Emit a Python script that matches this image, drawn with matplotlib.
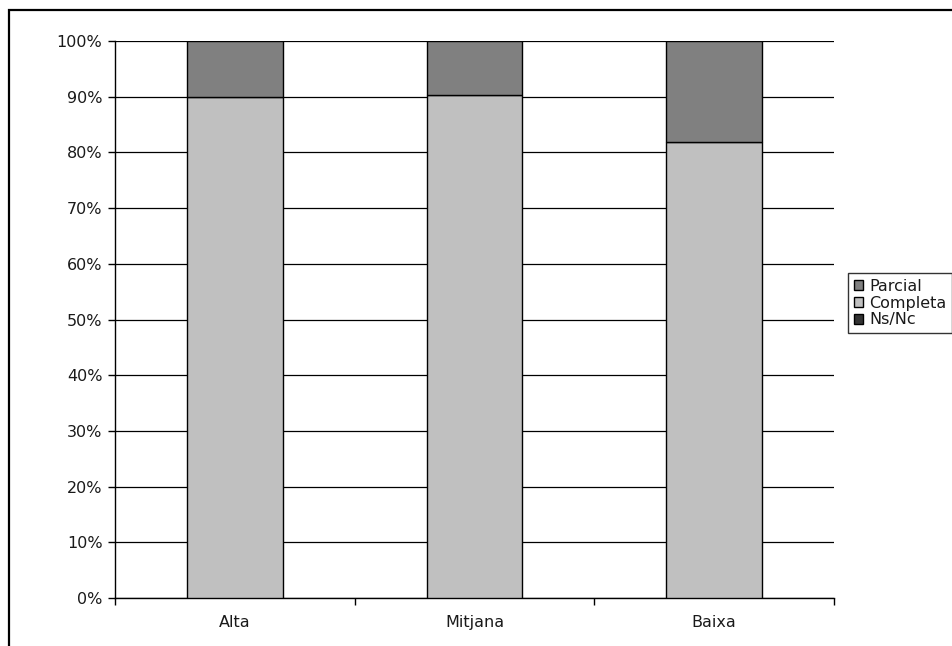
import matplotlib.pyplot as plt
from matplotlib.patches import Rectangle
from matplotlib.ticker import FuncFormatter
import numpy as np

# Datos
categorias = ['Alta', 'Mitjana', 'Baixa']
ns_nc = [0.0, 0.0, 0.0]
completa = [90.0, 90.3, 81.9]
parcial = [100 - c - n for c, n in zip(completa, ns_nc)]

colores = {'Parcial': '#808080', 'Completa': '#c0c0c0', 'Ns/Nc': '#333333'}

W, H = 952, 646
fig = plt.figure(figsize=(W / 100, H / 100), dpi=100)
plt.rcParams['font.family'] = ['DejaVu Sans']
FS = 11.5

# Marco exterior (cortado a la derecha y abajo)
fig.patches.append(Rectangle((9 / W, -0.05), 1.2, 1 - 10.5 / H + 0.05,
                             transform=fig.transFigure, fill=False,
                             edgecolor='black', linewidth=1.6))

ax = fig.add_axes([115 / W, 1 - 598 / H, (834 - 115) / W, (598 - 41) / H])

x = np.arange(len(categorias))
ancho = 0.4
kw = dict(width=ancho, edgecolor='black', linewidth=1.0, zorder=3)
ax.bar(x, ns_nc, color=colores['Ns/Nc'], label='Ns/Nc', **kw)
ax.bar(x, completa, bottom=ns_nc, color=colores['Completa'], label='Completa', **kw)
ax.bar(x, parcial, bottom=np.add(ns_nc, completa), color=colores['Parcial'],
       label='Parcial', **kw)

ax.set_xlim(-0.5, len(categorias) - 0.5)
ax.set_ylim(0, 100)
ax.set_yticks(np.arange(0, 101, 10))
ax.yaxis.set_major_formatter(FuncFormatter(lambda v, p: f'{int(v)}%'))
ax.grid(axis='y', color='black', linewidth=0.9, zorder=0)

ax.set_xticks(np.arange(-0.5, len(categorias), 1))
ax.set_xticklabels([])
ax.set_xticks(x, minor=True)
ax.set_xticklabels(categorias, minor=True)
ax.tick_params(axis='x', which='minor', length=0, pad=12, labelsize=FS,
               labelcolor='#1a1a1a')
ax.tick_params(axis='x', which='major', length=5, width=1, color='black')
ax.tick_params(axis='y', length=5, width=1, labelsize=FS, pad=4,
               labelcolor='#1a1a1a')

for s in ['top', 'right']:
    ax.spines[s].set_visible(False)
for s in ['left', 'bottom']:
    ax.spines[s].set_linewidth(1.0)
    ax.spines[s].set_color('black')

handles, labels = ax.get_legend_handles_labels()
orden = [2, 1, 0]
leg = fig.legend([handles[i] for i in orden], [labels[i] for i in orden],
                 loc='upper left', bbox_to_anchor=(848 / W, 1 - 273 / H),
                 fontsize=FS, frameon=True, fancybox=False, edgecolor='black',
                 handlelength=0.6, handleheight=0.6, handletextpad=0.4,
                 labelspacing=0.12, borderpad=0.35, borderaxespad=0)
leg.get_frame().set_linewidth(1.0)
for t in leg.get_texts():
    t.set_color('#1a1a1a')

fig.savefig('out.png', dpi=100)
